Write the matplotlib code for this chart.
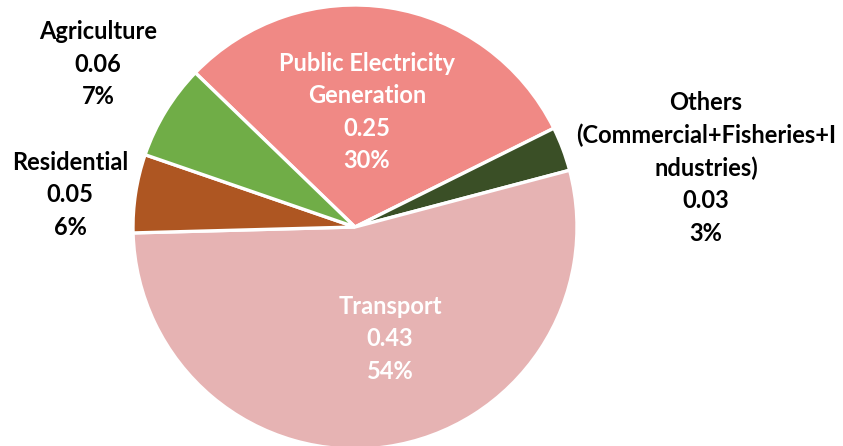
import matplotlib
matplotlib.use("Agg")
import matplotlib.pyplot as plt

# Data
categories = ["Public Electricity\nGeneration",
              "Others\n(Commercial+Fisheries+I\nndustries)",
              "Transport", "Residential", "Agriculture"]
values = [0.2455, 0.026, 0.433, 0.046, 0.056]
colors = ["#F08985", "#3A4F26", "#E6B3B3", "#AE5622", "#70AD47"]
label_colors = ["white", "black", "white", "black", "black"]

W, H = 843, 446
fig = plt.figure(figsize=(W / 100, H / 100), dpi=100)
ax = fig.add_axes([0, 0, 1, 1])
ax.set_xlim(0, W)
ax.set_ylim(0, H)
ax.set_aspect("equal")
ax.axis("off")

cx, cy, R = 355, H - 227, 222
ax.pie(values, colors=colors, startangle=136, counterclock=False,
       center=(cx, cy), radius=R, frame=True,
       wedgeprops=dict(edgecolor="white", linewidth=2.4))
ax.set_xlim(0, W)
ax.set_ylim(0, H)
ax.axis("off")

# label positions (pixel, top-left origin) -- layout only
label_pos = [(367, 112), (706, 168), (390, 339), (70, 195), (98, 64)]

total = sum(values)
for cat, v, lc, (px, py) in zip(categories, values, label_colors, label_pos):
    txt = f"{cat}\n{v:.2f}\n{round(100 * v / total):.0f}%"
    ax.text(px, H - py, txt, ha="center", va="center", color=lc,
            fontsize=17, fontfamily=["Lato", "DejaVu Sans"], fontweight="bold",
            linespacing=1.48)

fig.savefig("out.png", dpi=100)
